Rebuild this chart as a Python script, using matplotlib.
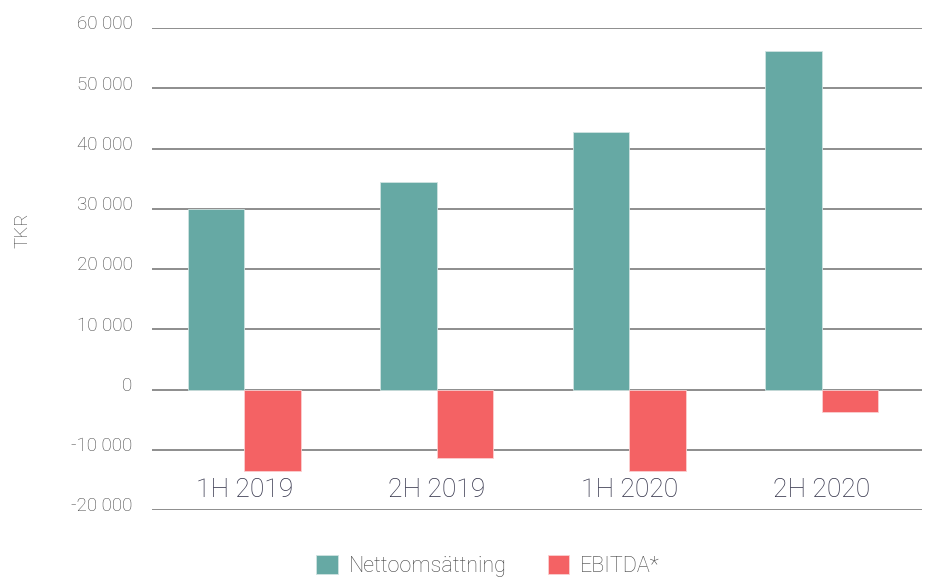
import matplotlib
matplotlib.use("Agg")
import matplotlib.pyplot as plt
import numpy as np
from matplotlib.transforms import ScaledTranslation
from matplotlib.ticker import FuncFormatter

categories = ["1H 2019", "2H 2019", "1H 2020", "2H 2020"]
netto = [29900, 34400, 42700, 56100]
ebitda = [-13500, -11400, -13500, -3700]
yticks = [-20000, -10000, 0, 10000, 20000, 30000, 40000, 50000, 60000]

plt.rcParams['font.family'] = ['Roboto', 'DejaVu Sans']
plt.rcParams['font.weight'] = 'light'

fig = plt.figure(figsize=(9.35, 5.77), dpi=100)
ax = fig.add_axes([152/935, 1-510/577, (922-152)/935, (510-28)/577])

teal = '#66A9A4'
red = '#F46264'
w = 0.293
x = np.arange(len(categories))
b1 = ax.bar(x - w/2, netto, w, color=teal, edgecolor='#cfe3e1', linewidth=0.6, label='Nettoomsättning', zorder=3)
b2 = ax.bar(x + w/2, ebitda, w, color=red, edgecolor='#fbd0d1', linewidth=0.6, label='EBITDA*', zorder=3)

ax.set_xlim(-0.48, 3.52)
ax.set_ylim(-20000, 60000)
ax.set_yticks(yticks)
ax.yaxis.set_major_formatter(FuncFormatter(lambda v, p: f"{int(v):,}".replace(",", " ")))
ax.grid(axis='y', color='#7a7a7a', linewidth=1.2, zorder=1)
ax.set_axisbelow(True)
for s in ax.spines.values():
    s.set_visible(False)

ax.tick_params(axis='y', length=0, pad=14, labelsize=13.5, labelcolor='#444444')
for lab in ax.get_yticklabels():
    lab.set_transform(lab.get_transform() + ScaledTranslation(0, 4/72, fig.dpi_scale_trans))

ax.set_xticks(x)
ax.set_xticklabels(categories)
ax.tick_params(axis='x', length=0, pad=-23, labelsize=19, labelcolor='#2e2e45')
for lab in ax.get_xticklabels():
    lab.set_zorder(5)

fig.text(22/935, 1-230/577, 'TKR', rotation=90, ha='center', va='center', fontsize=13.5, color='#444444')

fig.legend(handles=[b1, b2], loc='center', bbox_to_anchor=(488/935, 1-566/577), ncol=2, frameon=False,
           fontsize=15.5, labelcolor='#444444', handlelength=1.0, handleheight=1.0, handletextpad=0.5,
           columnspacing=1.9)

fig.savefig('out.png', dpi=100)
